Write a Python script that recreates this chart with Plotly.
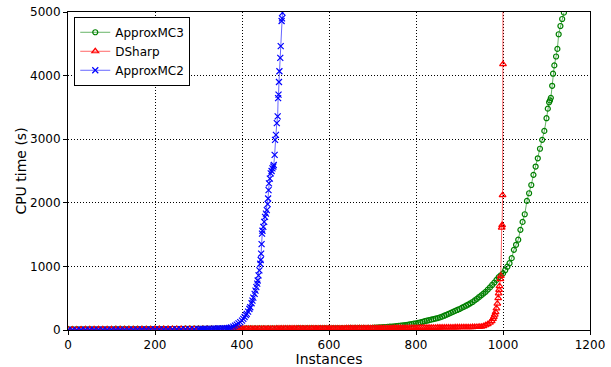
import plotly.graph_objects as go

# ---------------- data ----------------
# ApproxMC3
mc3_x = list(range(0, 700, 10)) + list(range(700, 1000, 5)) + [
    1000, 1005, 1010, 1015, 1020, 1025, 1030, 1035, 1040, 1045, 1050, 1055, 1060, 1065,
    1070, 1075, 1080, 1085, 1090, 1095, 1100, 1103, 1106, 1108, 1110, 1113, 1115,
    1118, 1122, 1125, 1128, 1132, 1136, 1140]
mc3_y = [
    14, 14, 14, 15, 15, 15, 15, 16, 16, 16, 16, 17, 17, 17, 17, 18, 18, 18, 18, 19,
    19, 19, 19, 20, 20, 20, 20, 21, 21, 21, 21, 22, 22, 22, 22, 23, 23, 23, 23, 24,
    24, 24, 24, 25, 25, 25, 25, 26, 26, 26, 27, 27, 27, 28, 28, 28, 29, 29, 29, 30,
    30, 30, 31, 31, 31, 32, 32, 32, 33, 34] + [
    35, 36, 38, 40, 42, 44, 47, 50, 52, 55, 58, 61, 65, 69, 73, 77, 82, 87, 93, 99,
    105, 112, 120, 129, 138, 146, 155, 163, 172, 180, 188, 198, 210, 225, 240, 255,
    270, 285, 300, 315, 330, 348, 365, 382, 400, 420, 440, 465, 490, 518, 545, 572,
    600, 635, 670, 708, 745, 788, 830, 860] + [
    890, 940, 995, 1050, 1130, 1260, 1340, 1420, 1575, 1700, 1820, 2030, 2150, 2280,
    2440, 2570, 2700, 2850, 2990, 3130, 3330, 3480, 3580, 3610, 3650, 3840, 4030,
    4160, 4300, 4420, 4650, 4780, 4890, 4990]

# DSharp
ds_x = list(range(0, 380, 10)) + list(range(380, 955, 5)) + [
    955, 960, 965, 970, 974, 977, 979, 981, 983, 985, 987, 989, 990, 991, 992,
    994, 995, 997, 998, 999, 1000, 1001]
ds_y = [
    10, 10, 10, 10, 11, 11, 11, 11, 12, 12, 12, 12, 13, 13, 13, 13, 14, 14, 14, 14,
    15, 15, 15, 15, 16, 16, 16, 16, 17, 17, 17, 17, 18, 18, 18, 18, 19, 19] + [
    19, 19, 19, 19, 20, 20, 20, 20, 20, 20, 20, 20, 21, 21, 21, 21, 21, 21, 21, 21,
    22, 22, 22, 22, 22, 22, 22, 22, 23, 23, 23, 23, 23, 23, 23, 23, 24, 24, 24, 24,
    24, 24, 24, 24, 25, 25, 25, 25, 25, 25, 25, 25, 26, 26, 26, 26, 26, 26, 27, 27,
    27, 27, 27, 27, 28, 28, 28, 28, 28, 28, 29, 29, 29, 29, 30, 30, 30, 30, 31, 31,
    31, 31, 32, 32, 33, 33, 34, 34, 35, 35, 36, 36, 37, 37, 38, 38, 39, 39, 40, 40,
    41, 41, 42, 42, 43, 43, 44, 44, 45, 45, 46, 47, 48, 50, 52] + [
    60, 75, 92, 115, 140, 175, 205, 240, 280, 340, 415, 500, 575, 630, 690,
    800, 850, 1610, 1650, 2120, 4180, 9000]

# ApproxMC2
mc2_x = list(range(0, 300, 10)) + list(range(300, 375, 5)) + [
    375, 380, 384, 388, 392, 396, 400, 403, 406, 409, 411, 414, 417, 419, 422, 424,
    426, 429, 431, 433, 435, 436, 438, 440, 442, 443, 444, 445, 446, 447, 449, 451,
    453, 455, 457, 459, 460, 461, 462, 464, 466, 468, 470, 472, 473, 475, 476, 478,
    480, 482, 483, 484, 485, 486, 488, 489, 491, 492, 493]
mc2_y = [
    3, 3, 3, 4, 4, 4, 5, 5, 5, 5, 6, 6, 6, 7, 7, 7, 8, 8, 8, 9,
    9, 10, 10, 11, 11, 12, 12, 13, 14, 15] + [
    16, 16, 17, 17, 18, 19, 20, 21, 22, 23, 25, 26, 28, 30, 33] + [
    40, 52, 68, 85, 105, 125, 147, 175, 205, 235, 253, 290, 330, 358, 420, 463,
    510, 568, 620, 674, 730, 779, 860, 937, 1042, 1100, 1200, 1350, 1516, 1560, 1621, 1700,
    1779, 1830, 1884, 1980, 2068, 2200, 2305, 2380, 2463, 2500, 2542, 2570, 2595, 2753, 2989, 3068,
    3253, 3358, 3647, 3700, 3900, 4068, 4279, 4463, 4858, 4900, 4989]

x_ticks = [0, 200, 400, 600, 800, 1000, 1200]
y_ticks = [0, 1000, 2000, 3000, 4000, 5000]

# ---------------- figure ----------------
fig = go.Figure()
fig.add_trace(go.Scatter(
    x=mc3_x, y=mc3_y, name="ApproxMC3", mode="lines+markers",
    line=dict(color="rgba(0,128,0,0.6)", width=1),
    marker=dict(symbol="circle-open", size=5, color="#008000", line=dict(width=1.2)),
))
fig.add_trace(go.Scatter(
    x=ds_x, y=ds_y, name="DSharp", mode="lines+markers",
    line=dict(color="rgba(255,0,0,0.6)", width=1),
    marker=dict(symbol="triangle-up-open", size=6, color="#ff0000", line=dict(width=1.2)),
))
fig.add_trace(go.Scatter(
    x=mc2_x, y=mc2_y, name="ApproxMC2", mode="lines+markers",
    line=dict(color="rgba(0,0,255,0.6)", width=1),
    marker=dict(symbol="x-thin-open", size=6, color="#0000ff", line=dict(width=1.2, color="#0000ff")),
))

axis_common = dict(
    showgrid=True, gridcolor="black", griddash="1px,2px", gridwidth=1,
    showline=True, mirror=True, linecolor="black", linewidth=1,
    ticks="outside", ticklen=4, tickcolor="black", zeroline=False,
    tickfont=dict(size=12), automargin=False, ticklabeloverflow="allow",
)
fig.update_xaxes(range=[0, 1200], tickvals=x_ticks, title=dict(text="Instances", standoff=4), **axis_common)
fig.update_yaxes(range=[0, 5000], tickvals=y_ticks, title=dict(text="CPU time (s)", standoff=0), **axis_common)

fig.update_layout(
    width=611, height=367,
    margin=dict(l=68, r=21, t=12, b=37),
    plot_bgcolor="white", paper_bgcolor="white",
    font=dict(family="DejaVu Sans", size=12, color="black"),
    legend=dict(x=0.012, y=0.985, xanchor="left", yanchor="top",
                bordercolor="black", borderwidth=1, bgcolor="white",
                font=dict(size=12), tracegroupgap=0),
    showlegend=True,
)

# remove the page's default body margin so the figure sits at the top-left corner
fig.write_html("out.html", config={"displayModeBar": False},
               post_script="document.body.style.margin='0';")
